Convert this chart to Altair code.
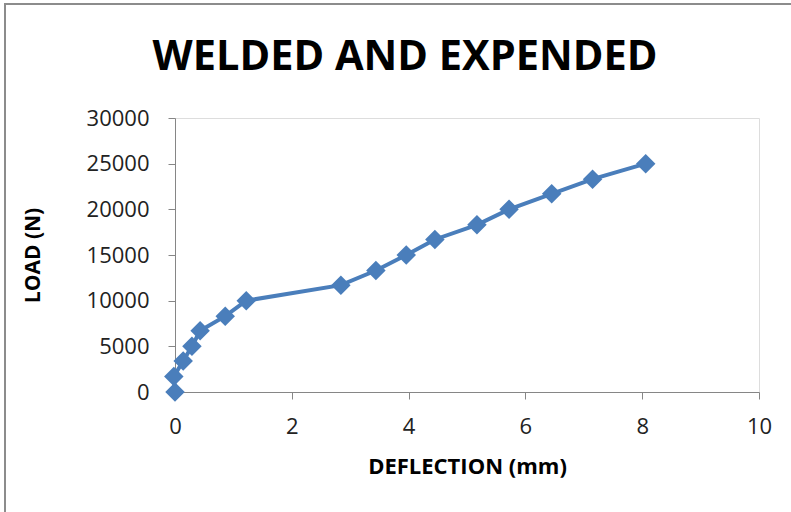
import altair as alt
import pandas as pd

deflection = [0.0, -0.02, 0.14, 0.29, 0.43, 0.86, 1.22, 2.84, 3.44, 3.96, 4.45, 5.17, 5.72, 6.45, 7.15, 8.06]
load = [0, 1700, 3400, 5000, 6700, 8300, 10000, 11700, 13300, 15000, 16700, 18300, 20000, 21700, 23300, 25000]
x_ticks = [0, 2, 4, 6, 8, 10]
y_ticks = [0, 5000, 10000, 15000, 20000, 25000, 30000]
chart_title = ["WELDED AND EXPENDED"]

df = pd.DataFrame({"deflection": deflection, "load": load})
tdf = pd.DataFrame({"t": chart_title})

BLUE = "#4a7ebb"
AXIS = "#868686"
FONT = "Open Sans"

x_scale = alt.Scale(domain=[0, 10], nice=False, zero=False)
y_scale = alt.Scale(domain=[0, 30000], nice=False)

x_enc = alt.X(
    "deflection:Q",
    scale=x_scale,
    axis=alt.Axis(
        values=x_ticks, format="d", title="DEFLECTION (mm)", grid=False, labelFlush=False,
        domainColor=AXIS, tickColor=AXIS, tickSize=7,
        labelFont=FONT, labelFontSize=22, labelColor="#222222", labelPadding=17,
        titleFont=FONT, titleFontSize=22, titleFontWeight="bold", titleColor="#000000",
        titleY=74, titleBaseline="middle",
    ),
)
y_enc = alt.Y(
    "load:Q",
    scale=y_scale,
    axis=alt.Axis(
        values=y_ticks, format="d", title="LOAD (N)", grid=False, labelFlush=False,
        domainColor=AXIS, tickColor=AXIS, tickSize=7,
        labelFont=FONT, labelFontSize=22, labelColor="#222222", labelPadding=19,
        titleFont=FONT, titleFontSize=21, titleFontWeight="bold", titleColor="#000000",
        titleX=-142, titleY=137, titleAngle=-90, titleBaseline="middle", titleAlign="center",
    ),
)

frame = alt.Chart(tdf).mark_rect(fill="white", fillOpacity=0, stroke="#8c8c8c", strokeWidth=2).encode(
    x=alt.value(-170), x2=alt.value(700), y=alt.value(-114), y2=alt.value(500)
)

title = alt.Chart(tdf).mark_text(
    font=FONT, fontSize=41.5, fontWeight="bold", color="#000000", align="center", baseline="alphabetic"
).encode(text="t:N", x=alt.value(230), y=alt.value(-48))

line = alt.Chart(df).mark_line(color=BLUE, strokeWidth=4).encode(x=x_enc, y=y_enc, order=alt.Order("load:Q"))
points = alt.Chart(df).mark_point(shape="diamond", size=380, filled=True, color=BLUE, opacity=1).encode(
    x=alt.X("deflection:Q", scale=x_scale), y=alt.Y("load:Q", scale=y_scale)
)

chart = alt.layer(frame, title, line, points).properties(
    width=584,
    height=274,
    autosize=alt.AutoSizeParams(type="none"),
    padding={"left": 175, "top": 118, "right": 32, "bottom": 120},
).configure_view(stroke=None).configure(background="white")

chart.save("out.html", embed_options={"renderer": "svg", "actions": False})
